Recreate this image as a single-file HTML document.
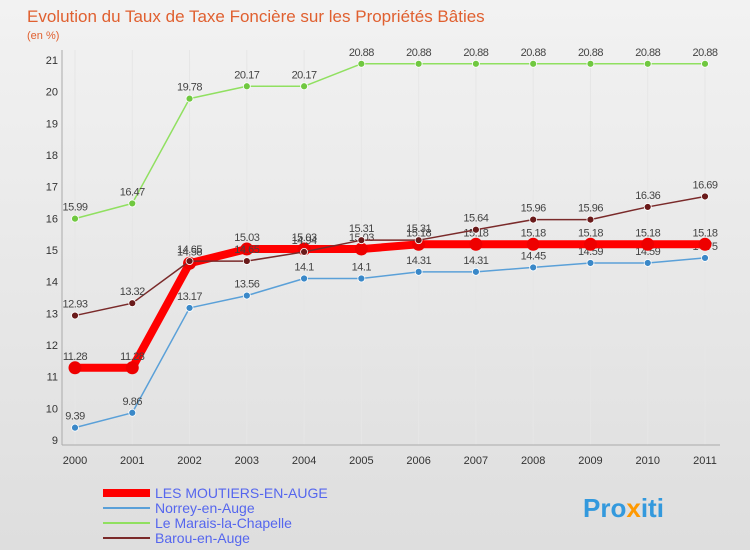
<!DOCTYPE html>
<html><head><meta charset="utf-8"><style>
body{margin:0;background:#fff;font-family:"Liberation Sans",sans-serif}
svg text{font-family:"Liberation Sans",sans-serif}
</style></head><body>
<svg width="750" height="550">
<defs><linearGradient id="bg" x1="0" y1="0" x2="0" y2="1"><stop offset="0" stop-color="#f2f2f2"/><stop offset="1" stop-color="#dedede"/></linearGradient></defs>
<rect x="0" y="0" width="750" height="550" fill="url(#bg)"/>
<text x="27" y="22" font-size="17" fill="#e06030">Evolution du Taux de Taxe Foncière sur les Propriétés Bâties</text>
<text x="27" y="39" font-size="11" fill="#e06030">(en %)</text>
<g id="axes"></g><g id="series"></g>
<g>
<line x1="103" y1="493" x2="150" y2="493" stroke="#f00" stroke-width="8"/>
<text x="155" y="498" font-size="14" fill="#5566ee">LES MOUTIERS-EN-AUGE</text>
<line x1="103" y1="508" x2="150" y2="508" stroke="#5aa0d8" stroke-width="2"/>
<text x="155" y="513" font-size="14" fill="#5566ee">Norrey-en-Auge</text>
<line x1="103" y1="523" x2="150" y2="523" stroke="#90e060" stroke-width="2"/>
<text x="155" y="528" font-size="14" fill="#5566ee">Le Marais-la-Chapelle</text>
<line x1="103" y1="538" x2="150" y2="538" stroke="#7a2a2a" stroke-width="2"/>
<text x="155" y="543" font-size="14" fill="#5566ee">Barou-en-Auge</text>
</g>
<text x="583" y="517" font-size="26" font-weight="bold" fill="#3399dd">Pro<tspan fill="#ff9900">x</tspan>iti</text>
</svg>
<script>
const years=["2000","2001","2002","2003","2004","2005","2006","2007","2008","2009","2010","2011"];
const yTicks=[9,10,11,12,13,14,15,16,17,18,19,20,21];
const moutiers=[11.28,11.28,14.58,15.03,15.03,15.03,15.18,15.18,15.18,15.18,15.18,15.18];
const norrey=[9.39,9.86,13.17,13.56,14.1,14.1,14.31,14.31,14.45,14.59,14.59,14.75];
const marais=[15.99,16.47,19.78,20.17,20.17,20.88,20.88,20.88,20.88,20.88,20.88,20.88];
const barou=[12.93,13.32,14.65,14.65,14.94,15.31,15.31,15.64,15.96,15.96,16.36,16.69];
const NS="http://www.w3.org/2000/svg";
const X=i=>75+i*(630/11), Y=v=>440-(v-9)*(380/12);
function mk(t,a,p){const e=document.createElementNS(NS,t);for(const k in a)e.setAttribute(k,a[k]);p.appendChild(e);return e;}
const ax=document.getElementById('axes');
years.forEach((y,i)=>{
 const l=mk('line',{x1:X(i),x2:X(i),y1:50,y2:445,stroke:'#e6e6e6'},ax);
 
 
 const t=mk('text',{x:X(i),y:464,'font-size':11,'text-anchor':'middle',fill:'#333'},ax);t.textContent=y;
 
 
});
yTicks.forEach(v=>{
 const t=mk('text',{x:58,y:Y(v)+4,'font-size':11,'text-anchor':'end',fill:'#333'},ax);t.textContent=v;
 
 
});
mk('line',{x1:62,x2:62,y1:50,y2:445,stroke:'#aaa'},ax);
mk('line',{x1:62,x2:720,y1:445,y2:445,stroke:'#aaa'},ax);
const sg=document.getElementById('series');
function draw(name,data,color,w,r,dot){
 const g=mk('g',{},sg);
 
 
 mk('polyline',{points:data.map((v,i)=>X(i)+','+Y(v)).join(' '),fill:'none',stroke:color,'stroke-width':w,'stroke-linejoin':'round'},g);
 data.forEach((v,i)=>{
  const c=mk('circle',{cx:X(i),cy:Y(v),r:r,fill:dot,stroke:'#fff','stroke-width':r>5?0:0.8},g);
  
  
  const t=mk('text',{x:X(i),y:Y(v)-8,'font-size':11,'text-anchor':'middle',fill:'#444','letter-spacing':'-0.5'},g);
  t.textContent=v;
  
  
 });
}
draw('norrey',norrey,'#5aa0d8',1.5,3.5,'#3a88c8');
draw('marais',marais,'#90e060',1.5,3.5,'#70c840');
draw('moutiers',moutiers,'#ff0000',8,6.5,'#ee0000');
draw('barou',barou,'#7a2a2a',1.5,3.5,'#6a1a1a');
</script>
</body></html>
